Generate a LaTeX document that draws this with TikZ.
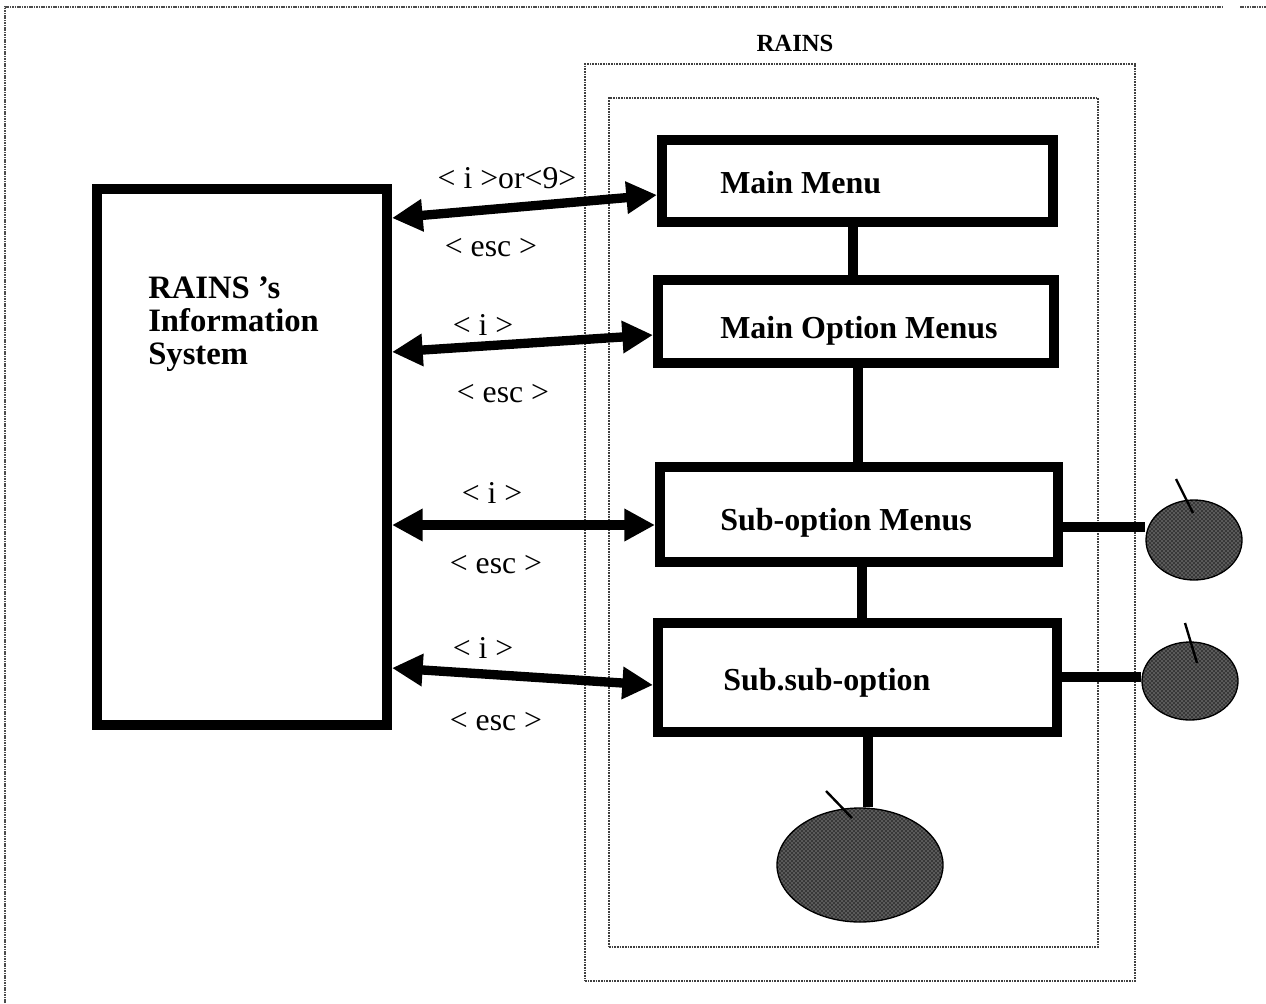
\documentclass[tikz,border=0pt]{standalone}
\usepackage{fontspec}
\setmainfont{Liberation Serif}
\usetikzlibrary{arrows.meta,shapes.geometric,patterns}

\begin{document}
\begin{tikzpicture}[x=0.75pt,y=-0.75pt,
  menubox/.style={draw, line width=7.5pt, rectangle, inner sep=0pt},
  boxtext/.style={font=\fontsize{24}{26}\selectfont\bfseries, inner sep=0pt, anchor=base west},
  keytext/.style={font=\fontsize{23.8}{26}\selectfont, inner sep=0pt, anchor=base},
  linkline/.style={line width=7.5pt},
  keyarrow/.style={line width=7pt, {Triangle[length=23pt,width=23pt]}-{Triangle[length=23pt,width=23pt]}},
  blob/.style={ellipse, draw=black, line width=1pt, preaction={fill=black!78},
    pattern=crosshatch dots, pattern color=white!80!black, inner sep=0pt},
  tickline/.style={line width=1.8pt},
  dotframe/.style={draw=black!75, line width=1.2pt, dash pattern=on 1.2pt off 0.8pt, rectangle, inner sep=0pt},
  pageedge/.style={draw=black!70, line width=1.1pt, dash pattern=on 1.2pt off 0.6pt},
]
\useasboundingbox (0,0) rectangle (1266,1003);

% sheet edge
\draw[pageedge] (5,1003) -- (5,7) -- (1222,7);
\draw[pageedge] (1240,7) -- (1266,7);

% RAINS frames
\node[font=\fontsize{18.5}{20}\selectfont\bfseries, inner sep=0pt, anchor=base] (rainstitle) at (795,51) {RAINS};
\node[dotframe, minimum width=412.5pt, minimum height=687.75pt] (rainsouter) at (860,522.5) {};
\node[dotframe, minimum width=366.75pt, minimum height=636.75pt] (rainsinner) at (853.5,522.5) {};

% information system
\node[menubox, minimum width=217.5pt, minimum height=402pt] (info) at (242,457) {};
\node[font=\fontsize{24.5}{24.5}\selectfont\bfseries, align=left, anchor=base west, inner sep=0pt] (infotext) at (148,364) {RAINS ’s\\Information\\System};

% menu boxes
\node[menubox, minimum width=293.25pt, minimum height=61.5pt] (mm) at (857.5,181) {};
\node[menubox, minimum width=297pt, minimum height=62.25pt] (mo) at (856,321.5) {};
\node[menubox, minimum width=298.5pt, minimum height=71.25pt] (so) at (859,514.5) {};
\node[menubox, minimum width=299.25pt, minimum height=81.75pt] (ss) at (857.5,677.5) {};

\node[boxtext] (mmtext) at (720,193) {Main Menu};
\node[boxtext] (motext) at (720,338) {Main Option Menus};
\node[boxtext] (sotext) at (720,530) {Sub-option Menus};
\node[boxtext] (sstext) at (723,690) {Sub.sub-option};

% end blobs
\node[blob, minimum width=72pt, minimum height=60pt] (e1) at (1194,540) {};
\node[blob, minimum width=72pt, minimum height=58.5pt] (e2) at (1190,681) {};
\node[blob, minimum width=124.5pt, minimum height=85.5pt] (e3) at (860,865) {};

% links between menus
\coordinate (k1) at (853,0);
\coordinate (k2) at (858,0);
\coordinate (k3) at (862,0);
\coordinate (k4) at (868,0);
\coordinate (r1) at (0,527);
\coordinate (r2) at (0,677);
\draw[linkline] (mm.south -| k1) -- (mo.north -| k1);
\draw[linkline] (mo.south -| k2) -- (so.north -| k2);
\draw[linkline] (so.south -| k3) -- (ss.north -| k3);
\draw[linkline] (ss.south -| k4) -- (e3.north -| k4);
\draw[linkline] (so.east |- r1) -- (e1.west |- r1);
\draw[linkline] (ss.east |- r2) -- (e2.west |- r2);

% small ticks on the blobs
\coordinate (t1a) at (1176,479); \coordinate (t1b) at (1193,513);
\coordinate (t2a) at (1185,623); \coordinate (t2b) at (1197,663);
\coordinate (t3a) at (826,791);  \coordinate (t3b) at (852,818);
\draw[tickline] (t1a) -- (t1b);
\draw[tickline] (t2a) -- (t2b);
\draw[tickline] (t3a) -- (t3b);

% key arrows
\coordinate (a1l) at (0,218); \coordinate (a1r) at (0,195);
\coordinate (a2l) at (0,352); \coordinate (a2r) at (0,335);
\coordinate (a3l) at (0,525); \coordinate (a3r) at (0,525);
\coordinate (a4l) at (0,668); \coordinate (a4r) at (0,685);
\draw[keyarrow] (info.east |- a1l) -- (mm.west |- a1r);
\draw[keyarrow] (info.east |- a2l) -- (mo.west |- a2r);
\draw[keyarrow] (info.east |- a3l) -- (so.west |- a3r);
\draw[keyarrow] (info.east |- a4l) -- (ss.west |- a4r);

\node[keytext] (key1) at (507,188) {< i >or<9>};
\node[keytext] (esc1) at (491,256) {< esc >};
\node[keytext] (key2) at (483,335) {< i >};
\node[keytext] (esc2) at (503,402) {< esc >};
\node[keytext] (key3) at (492,503) {< i >};
\node[keytext] (esc3) at (496,573) {< esc >};
\node[keytext] (key4) at (483,658) {< i >};
\node[keytext] (esc4) at (496,730) {< esc >};
\end{tikzpicture}
\end{document}
